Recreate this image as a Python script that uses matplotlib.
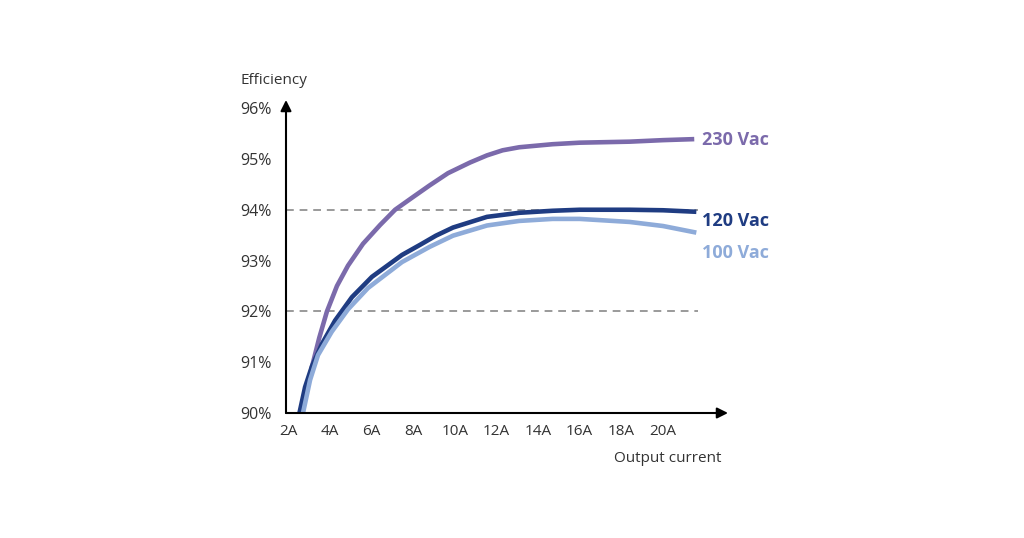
import matplotlib.pyplot as plt

plt.rcParams["font.family"] = ["Open Sans", "DejaVu Sans"]

# Output current (A) and efficiency (%)
current_230 = [2.67, 2.9, 3.15, 3.5, 3.87, 4.35, 4.88, 5.6, 6.42, 7.14, 8.0, 8.8, 9.68, 10.74, 11.55, 12.3, 13.1, 14.7, 16.0, 18.4, 20.0, 21.5]
eff_230 = [90.0, 90.45, 90.91, 91.48, 92.0, 92.5, 92.9, 93.33, 93.7, 94.0, 94.25, 94.48, 94.72, 94.93, 95.07, 95.17, 95.23, 95.29, 95.32, 95.34, 95.37, 95.39]

current_120 = [2.55, 2.82, 3.15, 3.63, 4.26, 5.07, 6.03, 7.47, 8.34, 9.1, 9.92, 11.55, 13.1, 14.7, 16.0, 18.4, 20.0, 21.6]
eff_120 = [90.0, 90.51, 90.92, 91.36, 91.82, 92.28, 92.68, 93.11, 93.31, 93.49, 93.65, 93.86, 93.94, 93.98, 94.0, 94.0, 93.99, 93.96]

current_100 = [2.72, 3.06, 3.44, 4.1, 4.88, 5.84, 7.47, 8.8, 9.92, 11.55, 13.1, 14.7, 16.0, 18.4, 20.0, 21.6]
eff_100 = [90.0, 90.65, 91.14, 91.6, 92.04, 92.46, 92.97, 93.27, 93.49, 93.69, 93.78, 93.82, 93.82, 93.76, 93.68, 93.55]

series = [
    ("230 Vac", current_230, eff_230, "#7b6aab", 95.37),
    ("120 Vac", current_120, eff_120, "#1f3c82", 93.78),
    ("100 Vac", current_100, eff_100, "#8eabd9", 93.15),
]

x_ticks = [2, 4, 6, 8, 10, 12, 14, 16, 18, 20]
x_labels = [f"{v}A" for v in x_ticks]
y_ticks = [90, 91, 92, 93, 94, 95, 96]
y_labels = [f"{v}%" for v in y_ticks]
ref_lines = [94, 92]

fig = plt.figure(figsize=(10.24, 5.38), dpi=100)
ax = fig.add_axes([286 / 1024, 125 / 538, 442 / 1024, 313 / 538])

x_min, x_max = 1.904, 23.12
ax.set_xlim(x_min, x_max)
ax.set_ylim(90, 96.16)

ax.hlines(ref_lines, x_min, 21.7, colors="#9a9a9a", linestyles=(0, (4, 3)), lw=1.4, zorder=1)

for name, xs, ys, color, label_y in series:
    ax.plot(xs, ys, color=color, lw=3.3, solid_capstyle="butt", solid_joinstyle="round",
            zorder=3, clip_on=False)
    ax.text(21.87, label_y, name, color=color, fontsize=13, fontweight="bold", va="center", ha="left")

for side in ["top", "right", "left", "bottom"]:
    ax.spines[side].set_visible(False)

arrow = dict(arrowstyle="-|>", color="black", lw=1.5, mutation_scale=16, shrinkA=0, shrinkB=0)
ax.annotate("", xy=(1, 0), xytext=(0, 0), xycoords="axes fraction", arrowprops=arrow)
ax.annotate("", xy=(0, 1), xytext=(0, 0), xycoords="axes fraction", arrowprops=arrow)

ax.set_xticks(x_ticks, x_labels)
ax.set_yticks(y_ticks, y_labels)
ax.tick_params(length=0, labelsize=11, colors="#333333", pad=8)
ax.tick_params(axis="y", labelsize=11.5, pad=10)

fig.text(240 / 1024, 1 - 80 / 538, "Efficiency", fontsize=11, color="#333333", va="center", ha="left")
fig.text(722 / 1024, 1 - 458 / 538, "Output current", fontsize=11, color="#333333", va="center", ha="right")

fig.savefig("out.png", dpi=100)
